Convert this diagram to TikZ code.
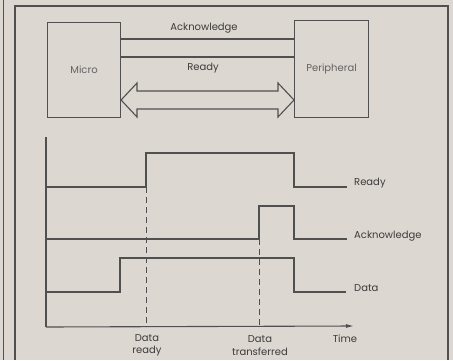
\documentclass[tikz,border=0pt]{standalone}
\usepackage{fontspec}
\setmainfont{Poppins}
\usetikzlibrary{arrows.meta}
\definecolor{bg}{RGB}{221,215,209}
\definecolor{ink}{RGB}{80,80,80}
\definecolor{txt}{RGB}{60,60,60}
\begin{document}
\begin{tikzpicture}[x=1pt,y=-1pt,
  ln/.style={draw=ink,line width=1.1pt},
  lbl/.style={text=txt,font=\fontsize{10}{12.5}\selectfont,inner sep=0pt,align=center},
  box/.style={ln,fill=bg,inner sep=0pt}]
\fill[bg] (0,0) rectangle (453,360);
\useasboundingbox (0,0) rectangle (453,360);
% frames
\draw[ink,line width=0.8pt] (3,0) -- (3,360);
\draw[ln] (15,360) -- (15,6) -- (448,6) -- (448,360);
% block diagram
\node[box,minimum width=73pt,minimum height=95pt,anchor=north west] (micro) at (47,22) {};
\node[lbl,text=txt!80] at (micro.center) {Micro};
\node[box,minimum width=74pt,minimum height=97pt,anchor=north west] (per) at (294,20) {};
\node[lbl,text=txt!80] at (per.center) {Peripheral};
\coordinate (a1) at (micro.east |- 0,39);
\coordinate (a2) at (per.west |- 0,39);
\coordinate (r1) at (micro.east |- 0,57);
\coordinate (r2) at (per.west |- 0,57);
\draw[ln] (a1) -- (a2);
\draw[ln] (r1) -- (r2);
\node[lbl] (ack) at (204,28) {Acknowledge};
\node[lbl] (rdy) at (203,68) {Ready};
% double arrow (bus)
\coordinate (bl) at (micro.east |- 0,100);
\coordinate (br) at (per.west |- 0,100);
\draw[ln,line join=miter] (bl) -- (137,83) -- (137,91) -- (278,91) -- (278,83) -- (br)
  -- (278,117) -- (278,109) -- (137,109) -- (137,117) -- cycle;
% timing diagram
\coordinate (o) at (46,327);
\coordinate (top) at (46,137);
\coordinate (tend) at (354,326);
\draw[ln] (top) -- (o);
\draw[ln,-{Latex[length=8pt,width=4pt]}] (o) -- (tend);
% Ready
\coordinate (R0) at (46,187);
\coordinate (Rend) at (347,187);
\draw[ln] (R0) -- (146,187) -- (146,153) -- (294,153) -- (294,187) -- (Rend);
\node[lbl,anchor=west] (lr) at (354,183) {Ready};
% Acknowledge
\coordinate (A0) at (46,239);
\coordinate (Aend) at (347,239);
\draw[ln] (A0) -- (259,239) -- (259,206) -- (294,206) -- (294,239) -- (Aend);
\node[lbl,anchor=west] (la) at (354,236) {Acknowledge};
% Data
\coordinate (D0) at (46,292);
\coordinate (Dend) at (346,292);
\draw[ln] (D0) -- (120,292) -- (120,258) -- (294,258) -- (294,292) -- (Dend);
\node[lbl,anchor=west] (ld) at (354,288) {Data};
% dashed markers
\coordinate (d1t) at (146,187);
\coordinate (d1b) at (146,327);
\coordinate (d2t) at (259,239);
\coordinate (d2b) at (259,327);
\draw[ink,line width=0.9pt,dash pattern=on 6pt off 4pt] (d1t) -- (d1b);
\draw[ink,line width=0.9pt,dash pattern=on 6pt off 4pt] (d2t) -- (d2b);
\node[lbl] (ldr) at (147,345.5) {Data\\ready};
\node[lbl] (ldt) at (260,345.5) {Data\\transferred};
\node[lbl] (lt) at (345,339) {Time};
\end{tikzpicture}
\end{document}
